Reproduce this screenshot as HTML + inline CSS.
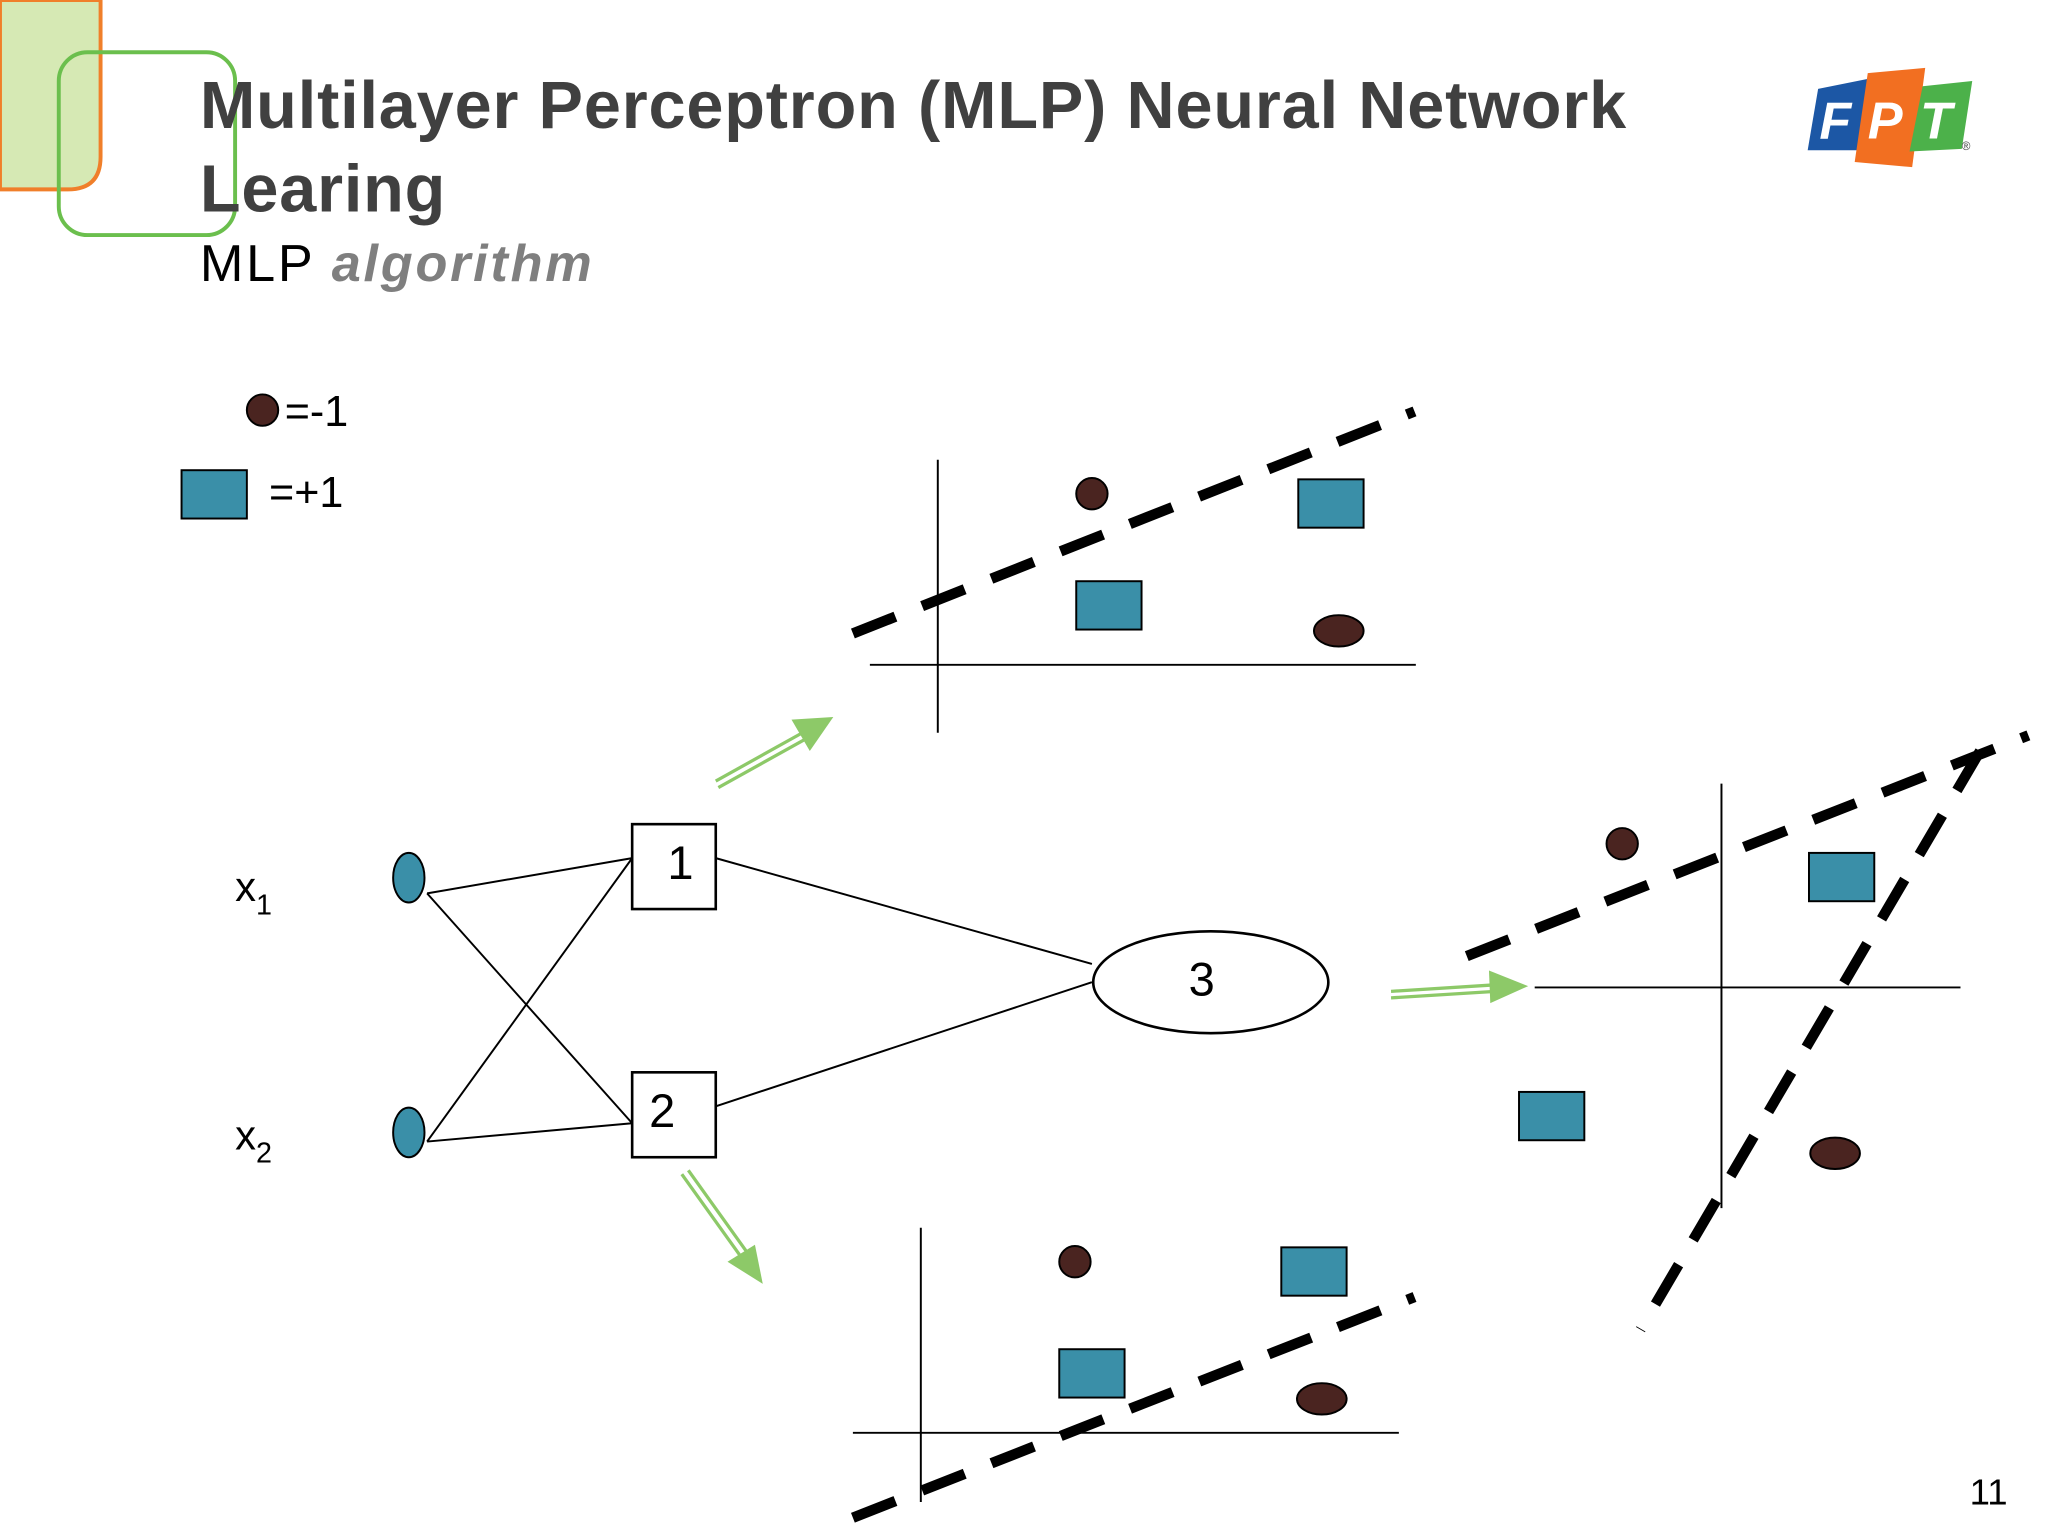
<!DOCTYPE html>
<html><head><meta charset="utf-8"><style>
html,body{margin:0;padding:0;background:#fff;}
svg{display:block;}
text{font-family:"Liberation Sans",sans-serif;}
</style></head><body>
<svg width="2048" height="1536" viewBox="0 0 1568 1176" xmlns="http://www.w3.org/2000/svg">
<rect width="1568" height="1176" fill="#fff"/>
<path d="M0,0 H77 V120 Q77,145 52,145 H0 Z" fill="#d6e9b4" stroke="#f07f2a" stroke-width="3"/>
<rect x="45" y="40" width="135" height="140" rx="22" fill="none" stroke="#6bbf4d" stroke-width="3"/>
<text x="153" y="98" font-size="51" font-weight="bold" fill="#404040" textLength="1092" lengthAdjust="spacing">Multilayer Perceptron (MLP) Neural Network</text>
<text x="153" y="162" font-size="51" font-weight="bold" fill="#404040" textLength="188" lengthAdjust="spacing">Learing</text>
<text x="153" y="215" font-size="40" fill="#000" textLength="300" lengthAdjust="spacing">MLP <tspan font-weight="bold" font-style="italic" fill="#7f7f7f">algorithm</tspan></text>
<g font-weight="bold" font-style="italic" font-size="40" fill="#fff">
<polygon points="1392,68 1432,60 1424,115 1384,115" fill="#1c57a5"/>
<polygon points="1430,56 1474,52 1464,128 1420,124" fill="#f26f21"/>
<polygon points="1472,66 1510,62 1502,114 1462,116" fill="#4cb14a"/>
<text x="1393" y="106">F</text><text x="1430" y="106">P</text><text x="1470" y="106">T</text>
</g>
<text x="1502" y="115" font-size="9" fill="#444">®</text>
<circle cx="201" cy="314" r="12" fill="#4a2420" stroke="#000" stroke-width="1.5"/>
<text x="218" y="326" font-size="33">=-1</text>
<rect x="139" y="360" width="50" height="37" fill="#3a8fa8" stroke="#000" stroke-width="1.5"/>
<text x="206" y="388" font-size="33">=+1</text>
<g stroke="#000" stroke-width="1.5">
<line x1="718" y1="352" x2="718" y2="561"/><line x1="666" y1="509" x2="1084" y2="509"/>
<line x1="705" y1="940" x2="705" y2="1150"/><line x1="653" y1="1097" x2="1071" y2="1097"/>
<line x1="1318" y1="600" x2="1318" y2="925"/><line x1="1175" y1="756" x2="1501" y2="756"/>
<line x1="327" y1="684" x2="484" y2="657"/><line x1="327" y1="684" x2="484" y2="860"/>
<line x1="327" y1="874" x2="484" y2="657"/><line x1="327" y1="874" x2="484" y2="860"/>
<line x1="548" y1="657" x2="836" y2="738"/><line x1="548" y1="847" x2="836" y2="752"/>
</g>
<g stroke="#000" stroke-width="8" stroke-dasharray="35 22">
<line x1="653" y1="485" x2="1083" y2="315"/>
<line x1="653" y1="1162" x2="1083" y2="993"/>
<line x1="1123" y1="732" x2="1553" y2="563"/>
<line x1="1516" y1="575" x2="1256" y2="1018"/>
</g>
<g fill="#3a8fa8" stroke="#000" stroke-width="1.5">
<rect x="994" y="367" width="50" height="37"/><rect x="824" y="445" width="50" height="37"/>
<rect x="981" y="955" width="50" height="37"/><rect x="811" y="1033" width="50" height="37"/>
<rect x="1385" y="653" width="50" height="37"/><rect x="1163" y="836" width="50" height="37"/>
<ellipse cx="313" cy="672" rx="12" ry="19"/><ellipse cx="313" cy="867" rx="12" ry="19"/>
</g>
<g fill="#4a2420" stroke="#000" stroke-width="1.5">
<circle cx="836" cy="378" r="12"/><ellipse cx="1025" cy="483" rx="19" ry="12"/>
<circle cx="823" cy="966" r="12"/><ellipse cx="1012" cy="1071" rx="19" ry="12"/>
<circle cx="1242" cy="646" r="12"/><ellipse cx="1405" cy="883" rx="19" ry="12"/>
</g>
<g fill="#fff" stroke="#000" stroke-width="2">
<rect x="484" y="631" width="64" height="65"/><rect x="484" y="821" width="64" height="65"/>
<ellipse cx="927" cy="752" rx="90" ry="39"/>
</g>
<text x="511" y="673" font-size="36">1</text>
<text x="497" y="863" font-size="36">2</text>
<text x="910" y="762" font-size="36">3</text>
<text x="180" y="690" font-size="32">x<tspan font-size="22" dy="10">1</tspan></text>
<text x="180" y="880" font-size="32">x<tspan font-size="22" dy="10">2</tspan></text>
<g stroke="#8dc968" stroke-width="2.5" fill="#8dc968">
<line x1="548" y1="598" x2="618" y2="559"/><line x1="550" y1="603" x2="620" y2="564"/>
<polygon points="638,549 606,551 620,575" stroke="none"/>
<line x1="522" y1="899" x2="570" y2="966"/><line x1="527" y1="896" x2="575" y2="963"/>
<polygon points="584,983 557,966 578,953" stroke="none"/>
<line x1="1065" y1="759" x2="1145" y2="754"/><line x1="1065" y1="764" x2="1145" y2="759"/>
<polygon points="1170,755 1140,743 1141,768" stroke="none"/>
</g>
<text x="1508" y="1152" font-size="28">11</text>
</svg>
</body></html>
